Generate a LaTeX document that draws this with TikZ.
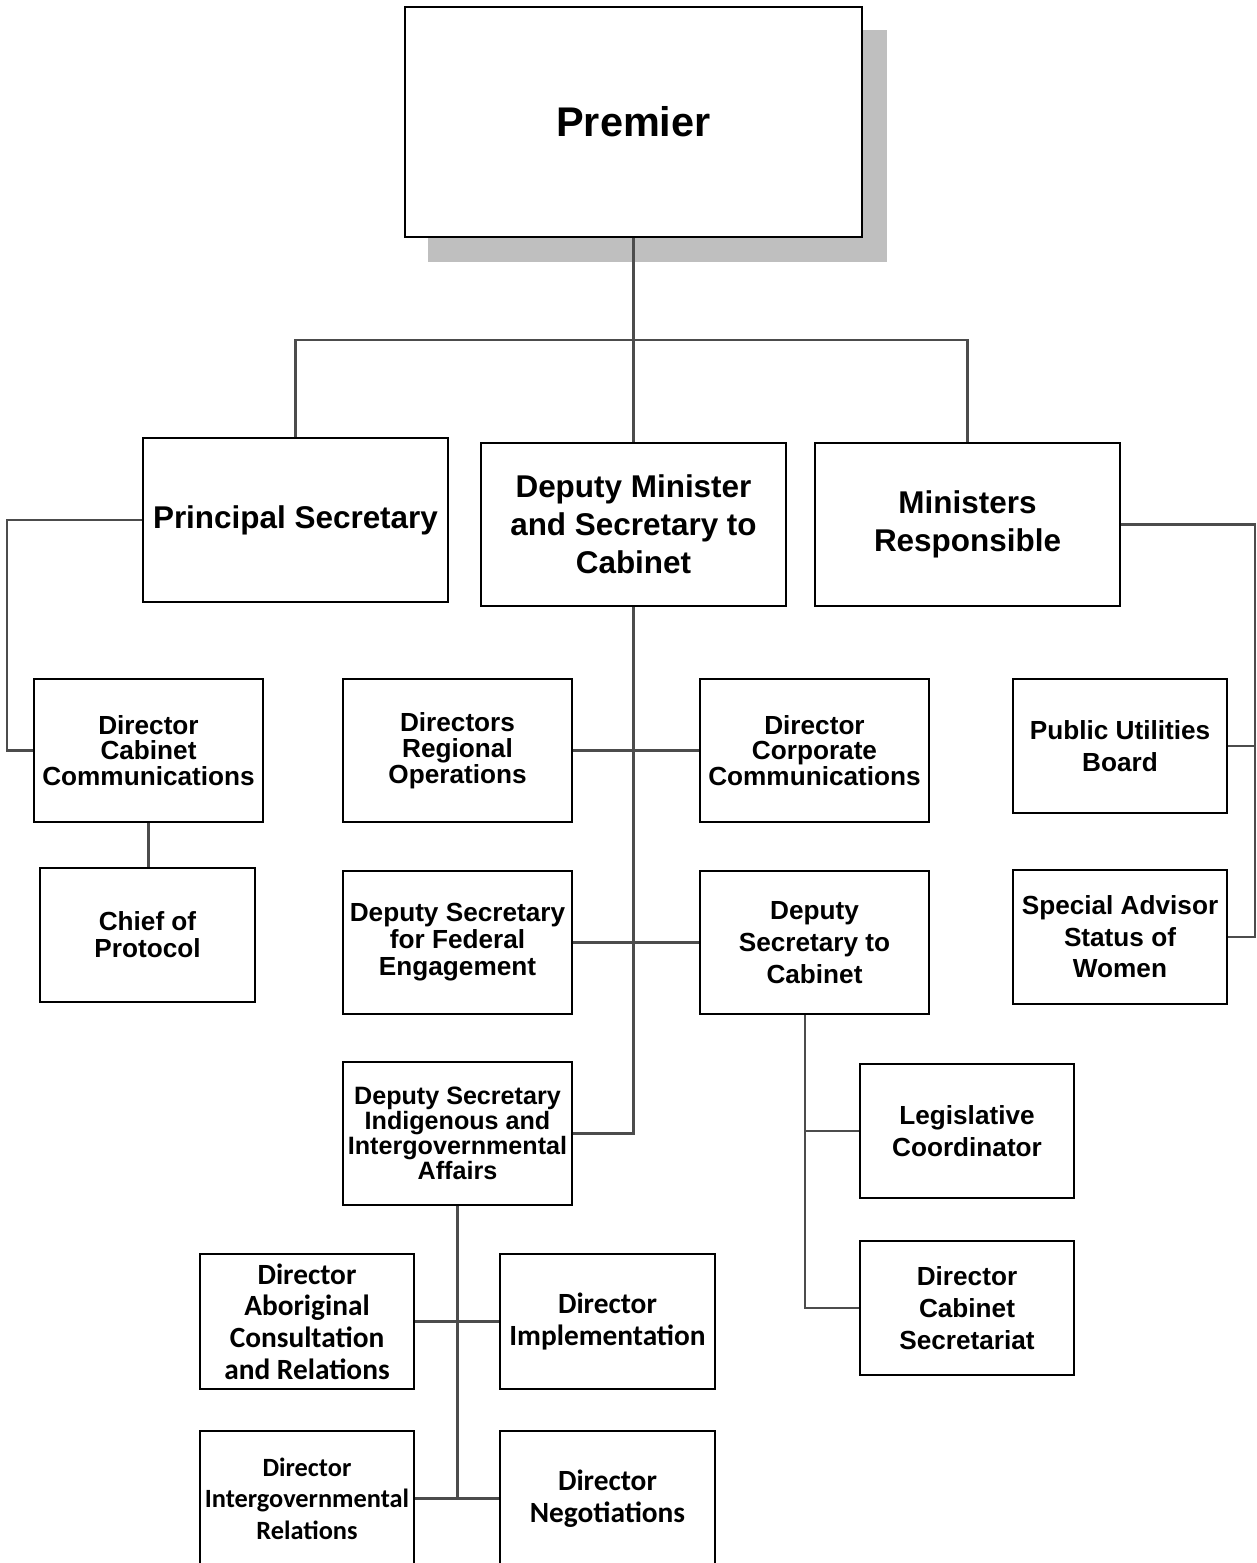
\documentclass[tikz,border=0pt]{standalone}
\usepackage{fontspec}
\setmainfont{Liberation Sans}
\newfontfamily\calfont{Carlito}
\usepackage{xcolor}
\usepackage{tikz}
\usetikzlibrary{calc, positioning}
\tikzset{
    orgbox/.style={draw,line width=1.1pt,fill=white,align=center,inner sep=0pt,font=\bfseries},
    bigbox/.style={orgbox,minimum width=6.1cm,minimum height=3.27cm},
    midbox/.style={orgbox,minimum width=4.58cm,minimum height=2.87cm},
    smallbox/.style={orgbox,minimum width=4.29cm,minimum height=2.69cm},
    link/.style={draw=black!70,line width=1.6pt}
}
\definecolor{Shadow}{gray}{0.75}

\begin{document}
\begin{tikzpicture}[x=0.02cm,y=-0.02cm]
\tikzset{
    bigtext/.style={font=\bfseries\fontsize{17.9}{21.5}\selectfont},
    midtext/.style={font=\bfseries\fontsize{14.9}{14.7}\selectfont},
    looktext/.style={font=\bfseries\fontsize{14.9}{18}\selectfont},
    caltext/.style={font=\calfont\bfseries\fontsize{16.7}{18}\selectfont}
}
  \useasboundingbox (0,0) rectangle (1257,1563);
  \clip (0,0) rectangle (1257,1563);

  % top
  \fill [Shadow] (428,30) rectangle (887,262);
  \node[orgbox, minimum width=9.14cm, minimum height=4.6cm, font=\bfseries\fontsize{23.6}{28}\selectfont] (premier) at (633.5,122) {Premier};

  \node[bigbox, bigtext] (psec) at (295.5,520) {Principal Secretary};
  \node[bigbox, bigtext] (dmsc) at (633.5,524.5) {Deputy Minister\\and Secretary to\\Cabinet};
  \node[bigbox, bigtext] (minr) at (967.5,524.5) {Ministers\\Responsible};

  % left branch
  \node[midbox, midtext] (dcc) at (148.5,750.5) {Director\\Cabinet\\Communications};
  \node[smallbox, font=\bfseries\fontsize{14.9}{15.3}\selectfont] (chief) at (147.5,935) {Chief of\\Protocol};

  % middle branch
  \node[midbox, midtext] (dro) at (457.5,750.5) {Directors\\Regional\\Operations};
  \node[midbox, midtext] (dcorp) at (814.5,750.5) {Director\\Corporate\\Communications};
  \node[midbox, font=\bfseries\fontsize{14.9}{15.3}\selectfont] (dsfe) at (457.5,942.5) {Deputy Secretary\\for Federal\\Engagement};
  \node[midbox, looktext] (dsc) at (814.5,942.5) {Deputy\\Secretary to\\Cabinet};
  \node[midbox, font=\bfseries\fontsize{14.3}{14.2}\selectfont] (dsiia) at (457.5,1133.5) {Deputy Secretary\\Indigenous and\\Intergovernmental\\Affairs};

  \node[smallbox, looktext] (legc) at (967,1131) {Legislative\\Coordinator};
  \node[smallbox, looktext] (dcs) at (967,1308) {Director\\Cabinet\\Secretariat};

  \node[smallbox, caltext] (dacr) at (307,1321.5) {Director\\Aboriginal\\Consultation\\and Relations};
  \node[smallbox, caltext] (dimp) at (607.5,1321.5) {Director\\Implementation};
  \node[smallbox, font=\calfont\bfseries\fontsize{15}{18}\selectfont] (dir) at (307,1498.5) {Director\\Intergovernmental\\Relations};
  \node[smallbox, caltext] (dneg) at (607.5,1498.5) {Director\\Negotiations};

  % right branch
  \node[smallbox, looktext] (pub) at (1120,746) {Public Utilities\\Board};
  \node[smallbox, looktext] (sasw) at (1120,937) {Special Advisor\\Status of\\Women};

  % connectors
  \coordinate (bar) at (633.5,340);
  \coordinate (pleft) at (7,520);
  \coordinate (mrail) at (1255,524.5);
  \coordinate (dscfoot) at (805,1015);

  \draw[link] (premier.south) -- (dmsc.north);
  \draw[link] (psec.north) |- (bar) -| (minr.north);
  \draw[link] (psec.west) -- (pleft) |- (dcc.west);
  \draw[link] (dcc.south) -- (dcc.south |- chief.north);
  \draw[link] (dmsc.south) |- (dsiia.east);
  \draw[link] (dro.east) -- (dcorp.west);
  \draw[link] (dsfe.east) -- (dsc.west);
  \draw[link] (dscfoot) |- (dcs.west);
  \draw[link] (dscfoot |- legc.west) -- (legc.west);
  \draw[link] (minr.east) -- (mrail) |- (sasw.east);
  \draw[link] (pub.east) -- (pub.east -| mrail);
  \draw[link] (dsiia.south) |- (dir.east);
  \draw[link] (dacr.east) -- (dimp.west);
  \draw[link] (dir.east) -- (dneg.west);
\end{tikzpicture}
\end{document}
